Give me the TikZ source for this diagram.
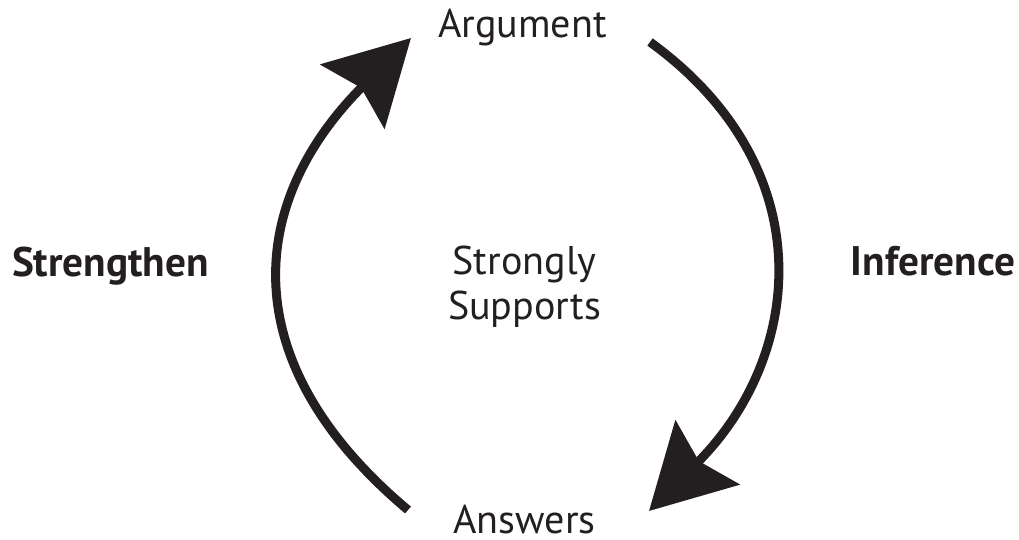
\documentclass[tikz,border=0pt]{standalone}
\usepackage{fontspec}
\setmainfont{PT Sans}
\usetikzlibrary{arrows.meta}
\definecolor{K}{RGB}{35, 31, 32}

\tikzset{
  lbl/.style={text=K, font=\fontsize{22.8}{26.1}\selectfont, inner sep=0pt},
  boldlbl/.style={lbl, font=\fontsize{23.5}{26.1}\selectfont\bfseries},
  cyc/.style={draw=K, line width=0.18cm,
    -{Stealth[length=1.65cm, width=1.8cm, inset=0.24cm]}}
}

\begin{document}
\begin{tikzpicture}
	\useasboundingbox (-10.19,-5.4) rectangle (10.19,5.4);

	%Etiquetas arriba y abajo
	\node[lbl, anchor=base] (arg) at (0.26, 4.64) {Argument};
	\node[lbl, anchor=base] (ans) at (0.30,-5.27) {Answers};

	%Etiquetas de los lados
	\node[boldlbl, anchor=base] (str) at (-7.98,-0.14) {Strengthen};
	\node[boldlbl, anchor=base] (inf) at ( 8.47,-0.12) {Inference};

	%Centro (base = ultima linea)
	\node[lbl, anchor=base, align=center] (sup) at (0.30,-1.00) {Strongly\\Supports};

	%Extremos de las flechas
	\coordinate (lbot) at (-2.03,-4.80);
	\coordinate (ltop) at (-1.97, 4.64);
	\coordinate (rtop) at ( 2.81, 4.56);
	\coordinate (rbot) at ( 2.79,-4.82);

	%Flecha izquierda (sube) y derecha (baja)
	\draw[cyc] (lbot) to[out=140, in=225, looseness=1.25] (ltop);
	\draw[cyc] (rtop) to[out=-36, in=45, looseness=1.18] (rbot);
\end{tikzpicture}
\end{document}
